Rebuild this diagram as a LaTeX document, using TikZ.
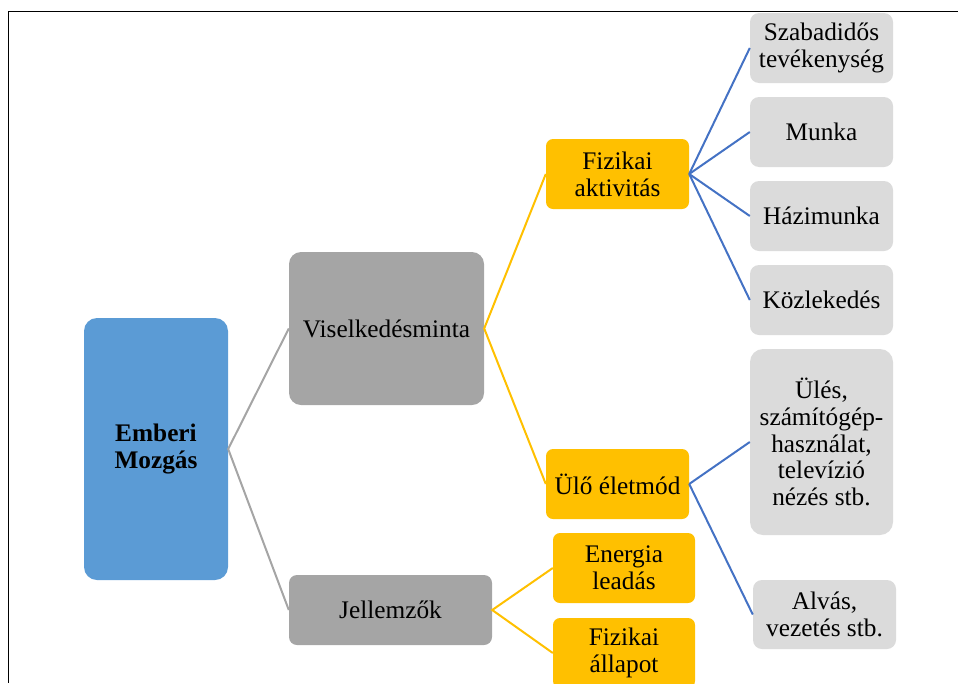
\documentclass[tikz,border=0pt]{standalone}
\usepackage{fontspec}
\setmainfont{Liberation Serif}
\definecolor{cblue}{HTML}{5B9BD5}
\definecolor{cgray}{HTML}{A5A5A5}
\definecolor{corange}{HTML}{FFC000}
\definecolor{clight}{HTML}{DBDBDB}
\definecolor{lblue}{HTML}{4472C4}
\tikzset{
  box/.style={rounded corners=7pt, align=center, inner sep=0pt,
    font=\fontsize{25.3}{26.8}\selectfont, text=black},
  rootbox/.style={box, fill=cblue, rounded corners=13pt, font=\fontsize{25.3}{26.8}\selectfont\bfseries},
  midbox/.style={box, fill=cgray, rounded corners=12pt},
  orbox/.style={box, fill=corange},
  leafbox/.style={box, fill=clight, rounded corners=9pt},
  gline/.style={draw=cgray, line width=2pt},
  oline/.style={draw=corange, line width=2pt},
  bline/.style={draw=lblue, line width=2pt},
}
\begin{document}
\begin{tikzpicture}[x=1pt,y=-1pt]
\useasboundingbox (0,0) rectangle (958,683);
% frame
\draw[line width=1.8pt, black] (958,11.5) -- (8.5,11.5) -- (8.5,683);
% nodes
\node[rootbox, minimum width=144pt, minimum height=262pt] (em) at (156,449) {Emberi\\Mozgás};
\node[midbox, minimum width=195pt, minimum height=153pt] (vis) at (386.5,328.5) {Viselkedésminta};
\node[midbox, minimum width=203pt, minimum height=70pt, rounded corners=8pt] (jel) at (390.5,610) {Jellemzők};
\node[orbox, minimum width=143pt, minimum height=70pt] (fa) at (617.5,174) {Fizikai\\aktivitás};
\node[orbox, minimum width=143pt, minimum height=70pt] (ule) at (617.5,484) {Ülő életmód};
\node[orbox, minimum width=142pt, minimum height=70pt] (ene) at (624,568) {Energia\\leadás};
\node[orbox, minimum width=142pt, minimum height=70pt] (fal) at (624,653) {Fizikai\\állapot};
\node[leafbox, minimum width=143pt, minimum height=70pt] (szab) at (821.5,48) {Szabadidős\\tevékenység};
\node[leafbox, minimum width=143pt, minimum height=70pt] (mun) at (821.5,132) {Munka};
\node[leafbox, minimum width=143pt, minimum height=70pt] (haz) at (821.5,216) {Házimunka};
\node[leafbox, minimum width=143pt, minimum height=70pt] (koz) at (821.5,300) {Közlekedés};
\node[leafbox, minimum width=143pt, minimum height=186pt, rounded corners=13pt] (ules) at (821.5,442) {Ülés,\\számítógép-\\használat,\\televízió\\nézés stb.};
\node[leafbox, minimum width=143pt, minimum height=69pt] (alv) at (824.5,614.5) {Alvás,\\vezetés stb.};
% connectors
\draw[gline] (vis.west) -- (em.east) -- (jel.west);
\draw[oline] (fa.west) -- (vis.east) -- (ule.west);
\draw[oline] (ene.west) -- (jel.east) -- (fal.west);
\draw[bline] (fa.east) -- (szab.west);
\draw[bline] (fa.east) -- (mun.west);
\draw[bline] (fa.east) -- (haz.west);
\draw[bline] (fa.east) -- (koz.west);
\draw[bline] (ule.east) -- (ules.west);
\draw[bline] (ule.east) -- (alv.west);
\end{tikzpicture}
\end{document}
